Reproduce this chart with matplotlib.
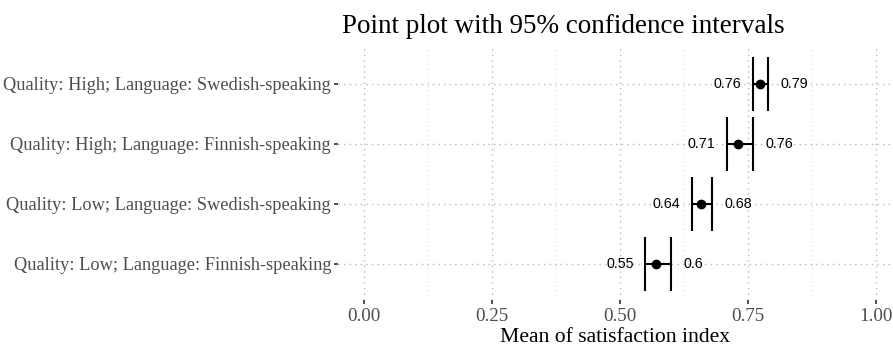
import matplotlib.pyplot as plt
import numpy as np

# data
groups = ["Quality: Low; Language: Finnish-speaking",
          "Quality: Low; Language: Swedish-speaking",
          "Quality: High; Language: Finnish-speaking",
          "Quality: High; Language: Swedish-speaking"]
means = [0.570, 0.658, 0.731, 0.774]
lower = [0.55, 0.64, 0.71, 0.76]
upper = [0.60, 0.68, 0.76, 0.79]
lower_lab = ["0.55", "0.64", "0.71", "0.76"]
upper_lab = ["0.6", "0.68", "0.76", "0.79"]
xticks = [0.0, 0.25, 0.5, 0.75, 1.0]

W, H = 893, 346
fig = plt.figure(figsize=(W / 100, H / 100), dpi=100)
# panel in pixels: left 338, right 893, top 48, bottom 300
ax = fig.add_axes([338 / W, (H - 300) / H, (893 - 338) / W, (300 - 48) / H])

y = np.arange(1, len(groups) + 1)

ax.set_xlim(-0.05, 1.0332)
ax.set_ylim(0.4, len(groups) + 0.6)

for s in ax.spines.values():
    s.set_visible(False)

ax.set_xticks(xticks)
ax.set_xticks([0.125, 0.375, 0.625, 0.875], minor=True)
ax.set_xticklabels(["%.2f" % v for v in xticks])
ax.set_yticks(y)
ax.set_yticklabels(groups)

ax.grid(which="major", color="#b8b8b8", linestyle=(0, (1, 3)), linewidth=1.0)
ax.grid(which="minor", axis="x", color="#dcdcdc", linestyle=(0, (1, 3)), linewidth=0.8)
ax.set_axisbelow(True)

ax.tick_params(axis="both", which="major", length=3, width=1.2, color="#333333",
               labelcolor="#4d4d4d", pad=2)
ax.tick_params(axis="y", labelsize=13.25)
ax.tick_params(axis="x", labelsize=13.8, pad=3)
ax.tick_params(axis="x", which="minor", length=0)
for lab in ax.get_xticklabels() + ax.get_yticklabels():
    lab.set_family("Liberation Serif")

# error bars: horizontal segment plus end bars
ax.hlines(y, lower, upper, color="black", linewidth=1.5)
ax.vlines(lower, y - 0.45, y + 0.45, color="black", linewidth=1.5)
ax.vlines(upper, y - 0.45, y + 0.45, color="black", linewidth=1.5)
ax.plot(means, y, "o", color="black", markersize=6)

for i in range(len(groups)):
    ax.annotate(lower_lab[i], (lower[i], y[i]), xytext=(-8.5, 0), textcoords="offset points",
                ha="right", va="center", fontsize=10.3, family="Liberation Sans")
    ax.annotate(upper_lab[i], (upper[i], y[i]), xytext=(9, 0), textcoords="offset points",
                ha="left", va="center", fontsize=10.3, family="Liberation Sans")

fig.text(563 / W, 1 - 33 / H, "Point plot with 95% confidence intervals",
         ha="center", va="baseline", fontsize=19.5, family="Liberation Serif")
fig.text(615 / W, 1 - 341.5 / H, "Mean of satisfaction index",
         ha="center", va="baseline", fontsize=15.6, family="Liberation Serif")

fig.savefig("out.png", dpi=100)
